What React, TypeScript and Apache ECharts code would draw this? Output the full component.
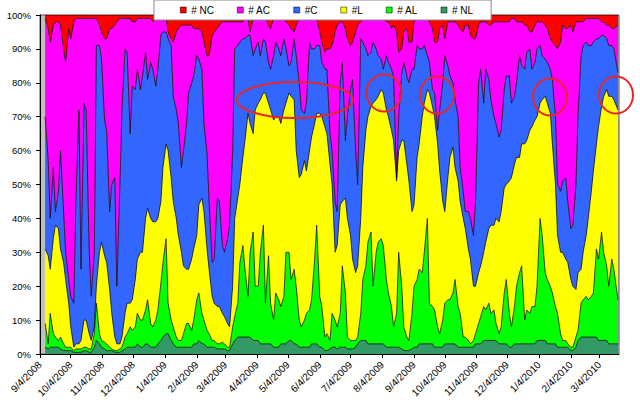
import React, { useEffect, useRef } from "react";
import * as echarts from "echarts";

// Sample dates, first pass (every 5 days)
const dates = [
  "2008-09-09","2008-09-14","2008-09-19","2008-09-24","2008-09-29","2008-10-04","2008-10-09","2008-10-14","2008-10-19","2008-10-24",
  "2008-10-29","2008-11-03","2008-11-08","2008-11-13","2008-11-18","2008-11-23","2008-11-28","2008-12-03","2008-12-08","2008-12-13",
  "2008-12-18","2008-12-23","2008-12-28","2009-01-02","2009-01-07","2009-01-12","2009-01-17","2009-01-22","2009-01-27","2009-02-01",
  "2009-02-06","2009-02-11","2009-02-16","2009-02-21","2009-02-26","2009-03-03","2009-03-08","2009-03-13","2009-03-18","2009-03-23",
  "2009-03-28","2009-04-02","2009-04-07","2009-04-12","2009-04-17","2009-04-22","2009-04-27","2009-05-02","2009-05-07","2009-05-12",
  "2009-05-17","2009-05-22","2009-05-27","2009-06-01","2009-06-06","2009-06-11","2009-06-16","2009-06-21","2009-06-26","2009-07-01",
  "2009-07-06","2009-07-11","2009-07-16","2009-07-21","2009-07-26","2009-07-31","2009-08-05","2009-08-10","2009-08-15","2009-08-20",
  "2009-08-25","2009-08-30","2009-09-04","2009-09-09","2009-09-14","2009-09-19","2009-09-24","2009-09-29","2009-10-04","2009-10-09",
  "2009-10-14","2009-10-19","2009-10-24","2009-10-29","2009-11-03","2009-11-08","2009-11-13","2009-11-18","2009-11-23","2009-11-28",
  "2009-12-03","2009-12-08","2009-12-13","2009-12-18","2009-12-23","2009-12-28","2010-01-02","2010-01-07","2010-01-12","2010-01-17",
  "2010-01-22","2010-01-27","2010-02-01","2010-02-06","2010-02-11","2010-02-16","2010-02-21","2010-02-26","2010-03-03","2010-03-08",
  "2010-03-13","2010-03-18","2010-03-22"
];

// Cumulative upper boundary (%) of each layer at those dates
const nlTop = [
  2,2,2,1.5,1,1,0.5,0.5,1,0.5,
  4,2,1,1,0.5,1,2,2,3,2,
  3,2,3,5,6,3,2,2,2,3,
  4,3,2,2,1.5,1.5,1,4,5,5,
  5,4,3,3,3,2,3,3,4,3,
  2,2,3,3,2,1,2,1.5,2,1.5,
  1.5,3,4,3,3,3,3,2,2,2,
  1,1,2,3,3,3,2,2,3,3,
  3,2,2,2,3,3,4,4,4,3,
  3,2,3,3,3,3,4,4,3,3,
  2,2,2,1,4,5,5,5,4,4,
  3,3,3
];
const alTop = [
  9,12,5,5,2,2,1.5,1.5,2,1.5,
  15,4,3,1.5,1,2,6,7,12,10,
  16,8,13,27,15,8,4,6,9,10,
  18,10,6,4,3,3,2,11,27,25,
  30,20,30,15,15,18,14,30,22,20,
  8,12,16,38,14,6,12,8,26,5,
  4,5,22,33,20,33,32,18,8,30,
  8,4,20,25,30,15,13,6,15,16,
  22,12,5,3,6,11,13,12,9,8,
  22,8,20,26,13,14,20,35,22,18,
  12,4,3,2,7,16,16,18,28,30,
  20,25,16
];
const lTop = [
  31,25,38,31,22,8,3,4,10,4,
  20,33,27,12,3,5,15,16,28,30,
  43,39,40,55,60,45,35,26,25,31,
  44,42,25,15,14,11,8,40,50,63,
  68,72,75,77,72,70,68,74,76,60,
  53,54,64,71,70,65,50,32,45,40,
  28,26,55,70,74,76,77,70,63,60,
  63,51,44,62,74,77,70,54,42,58,
  55,45,37,28,20,26,33,38,40,42,
  50,52,58,62,63,67,70,75,74,62,
  35,30,27,20,24,30,40,54,67,76,
  76,75,72
];
const cTop = [
  70,40,42,60,30,17,45,25,72,17,
  91,87,66,50,20,72,89,79,84,82,
  81,84,84,95,93,76,68,60,77,82,
  87,68,45,28,45,30,38,90,92,93,
  94,90,88,92,84,92,88,90,86,88,
  72,74,90,91,86,84,60,42,86,70,
  81,50,92,88,92,88,84,86,82,70,
  86,80,84,90,91,86,77,72,88,82,
  75,55,42,40,45,84,84,75,68,66,
  82,74,80,85,89,84,90,88,86,81,
  50,51,45,38,70,91,91,92,93,94,
  91,90,83
];
const acTop = [
  99,92,98,97,86,93,99,99,99,99,
  99,95,93,96,98,99,99,98,99,99,
  99,98,99,99,95,92,96,97,97,96,
  96,92,88,95,97,98,98,98,98,99,
  95,99,99,99,96,99,99,98,96,97,
  99,99,99,99,92,90,91,97,98,93,
  92,97,99,99,99,99,99,98,97,89,
  95,92,98,99,99,98,92,96,93,98,
  98,96,97,94,93,98,98,97,98,98,
  98,99,98,98,97,95,98,98,96,92,
  90,97,96,95,98,98,99,99,99,98,
  97,96,97
];

// Second pass: readings taken between the first-pass dates
const midDates = [
  "2008-09-12","2008-09-17","2008-09-22","2008-09-27","2008-10-02","2008-10-07","2008-10-12","2008-10-17","2008-10-22","2008-10-27",
  "2008-11-01","2008-11-06","2008-11-11","2008-11-16","2008-11-21","2008-11-26","2008-12-01","2008-12-06","2008-12-11","2008-12-16",
  "2008-12-21","2008-12-26","2008-12-31","2009-01-05","2009-01-10","2009-01-15","2009-01-20","2009-01-25","2009-01-30","2009-02-04",
  "2009-02-09","2009-02-14","2009-02-19","2009-02-24","2009-03-01","2009-03-06","2009-03-11","2009-03-16","2009-03-21","2009-03-26",
  "2009-03-31","2009-04-05","2009-04-10","2009-04-15","2009-04-20","2009-04-25","2009-04-30","2009-05-05","2009-05-10","2009-05-15",
  "2009-05-20","2009-05-25","2009-05-30","2009-06-04","2009-06-09","2009-06-14","2009-06-19","2009-06-24","2009-06-29","2009-07-04",
  "2009-07-09","2009-07-14","2009-07-19","2009-07-24","2009-07-29","2009-08-03","2009-08-08","2009-08-13","2009-08-18","2009-08-23",
  "2009-08-28","2009-09-02","2009-09-07","2009-09-12","2009-09-17","2009-09-22","2009-09-27","2009-10-02","2009-10-07","2009-10-12",
  "2009-10-17","2009-10-22","2009-10-27","2009-11-01","2009-11-06","2009-11-11","2009-11-16","2009-11-21","2009-11-26","2009-12-01",
  "2009-12-06","2009-12-11","2009-12-16","2009-12-21","2009-12-26","2009-12-31","2010-01-05","2010-01-10","2010-01-15","2010-01-20",
  "2010-01-25","2010-01-30","2010-02-04","2010-02-09","2010-02-14","2010-02-19","2010-02-24","2010-03-01","2010-03-06","2010-03-11",
  "2010-03-16"
];
const nlMid = [
  1.5,2,2,1,1,0.5,0.5,1,0.5,2,
  3,1.5,1,0.5,0.5,1.5,2,2,2,3,
  2,2,4,6,4,2,2,2,2,3,
  3,2,2,1.5,1.5,1,3,5,5,5,
  4,4,3,3,2,2,3,4,3,2,
  2,2,3,2,1,1.5,2,2,2,1.5,
  2,4,4,3,3,3,2,2,2,1.5,
  1,1.5,2,3,3,3,2,2,3,3,
  2,2,2,2,3,4,4,4,3,3,
  2,3,3,3,3,3,4,4,3,3,
  2,2,1,2,5,5,5,5,4,4,
  3
];
const alMid = [
  3,6,4,3,2,1,1.5,2,1.5,6,
  6,3.5,2,1,1.5,5,8,8,10,13,
  9,10,21,34,10,5,4,9,7,16,
  12,7,4,3,3.5,2,8,15,32,17,
  36,20,38,29,10,16,17,30,25,10,
  10,13,28,17,5,4,10,12,18,4,
  4,12,26,36,30,34,22,14,12,20,
  5,12,22,24,40,14,8,10,16,18,
  14,5,4,4,9,14,15,13,6,18,
  12,14,24,10,12,14,40,24,20,14,
  6,4,2,5,15,17,17,31,36,26,
  28
];
const lMid = [
  29,34,37,27,15,2,3,10,6,8,
  30,29,19,5,3,12,15,22,30,40,
  40,39,45,62,52,40,30,25,28,35,
  46,31,17,14,12,9,20,46,58,71,
  65,74,77,74,69,70,72,77,75,52,
  57,60,68,71,67,56,30,44,46,35,
  24,40,66,73,75,78,72,66,51,63,
  56,42,58,70,78,73,62,45,52,61,
  51,40,31,20,24,30,37,38,39,49,
  51,56,58,62,66,69,74,76,71,50,
  30,28,22,19,25,35,48,62,73,78,
  76
];
const cMid = [
  57,55,48,42,22,15,72,74,30,30,
  91,69,42,52,50,90,65,78,78,89,
  86,79,94,95,91,72,55,68,80,88,
  84,59,27,46,32,34,60,91,93,94,
  88,92,93,86,88,90,93,85,93,80,
  71,92,90,91,84,65,45,80,63,78,
  60,93,90,89,90,87,88,84,52,83,
  82,84,91,90,88,78,66,80,85,80,
  70,48,42,35,80,74,81,70,64,78,
  82,76,88,84,90,86,91,87,84,70,
  48,52,37,50,88,92,91,93,94,93,
  91
];
const acMid = [
  96,97,98,90,96,98,99,99,99,99,
  97,93,96,97,99,99,99,98,99,99,
  99,99,99,99,93,95,97,97,97,96,
  95,88,94,96,98,98,98,98,98,99,
  99,99,99,97,99,99,99,97,95,99,
  99,99,99,95,89,90,95,98,96,91,
  95,98,99,99,99,99,98,96,95,90,
  96,92,99,99,99,96,92,97,98,98,
  97,95,97,93,97,98,97,98,98,98,
  98,99,98,97,95,97,98,97,93,91,
  92,96,97,98,98,99,99,99,98,97,
  96
];

const tickDates = [
  "2008-09-04","2008-10-04","2008-11-04","2008-12-04","2009-01-04","2009-02-04","2009-03-04",
  "2009-04-04","2009-05-04","2009-06-04","2009-07-04","2009-08-04","2009-09-04","2009-10-04",
  "2009-11-04","2009-12-04","2010-01-04","2010-02-04","2010-03-04"
];
const startDate = "2008-09-04";
const endDate = "2010-03-23";

const seriesNames = ["# NL", "# AL", "#L", "#C", "# AC", "# NC"];
const seriesColors = ["#339966", "#00FF00", "#FFFF00", "#3366FF", "#FF00FF", "#FF0000"];
const legendOrder = ["# NC", "# AC", "#C", "#L", "# AL", "# NL"];

function utc(s: string): number {
  const [y, m, d] = s.split("-").map(Number);
  return Date.UTC(y, m - 1, d);
}
function fmt(v: number): string {
  const d = new Date(v);
  return `${d.getUTCMonth() + 1}/${d.getUTCDate()}/${d.getUTCFullYear()}`;
}

export default function App() {
  const ref = useRef<HTMLDivElement>(null);
  useEffect(() => {
    if (!ref.current) return;
    const chart = echarts.init(ref.current, undefined, { renderer: "svg" });
    type Row = { t: number; tops: number[] };
    const rows: Row[] = [
      ...dates.map((d, i) => ({ t: utc(d), tops: [nlTop[i], alTop[i], lTop[i], cTop[i], acTop[i], 100] })),
      ...midDates.map((d, i) => ({ t: utc(d), tops: [nlMid[i], alMid[i], lMid[i], cMid[i], acMid[i], 100] })),
    ].sort((a, b) => a.t - b.t);
    const series = seriesNames.map((name, k) => ({
      name,
      type: "line",
      stack: "total",
      symbol: "none",
      xAxisIndex: 0,
      data: rows.map((r) => {
        const bottom = k === 0 ? 0 : r.tops[k - 1];
        return [r.t, Math.round((r.tops[k] - bottom) * 100) / 100];
      }),
      lineStyle: { color: "#000", width: 0.7 },
      itemStyle: { color: seriesColors[k] },
      areaStyle: { color: seriesColors[k], opacity: 1 },
      z: 2,
    }));
    const ticks = tickDates.map(utc);
    const ell = (cx: number, cy: number, rx: number, ry: number) => ({
      type: "ellipse",
      shape: { cx, cy, rx, ry },
      style: { fill: "none", stroke: "#E8262A", lineWidth: 2 },
      z: 100,
    });
    chart.setOption({
      animation: false,
      backgroundColor: "#fff",
      textStyle: { fontFamily: "Arial, 'Liberation Sans', sans-serif" },
      grid: {
        left: 40,
        right: 21,
        top: 15,
        bottom: 56,
        show: true,
        backgroundColor: "#C0C0C0",
        borderColor: "#555",
        borderWidth: 1,
      },
      legend: {
        data: legendOrder,
        left: 154,
        top: 0,
        padding: [5, 18, 5, 26],
        itemGap: 23,
        itemWidth: 6,
        itemHeight: 6,
        icon: "rect",
        backgroundColor: "#fff",
        borderColor: "#888",
        borderWidth: 1,
        itemStyle: { borderColor: "#000", borderWidth: 0.5 },
        textStyle: { fontSize: 10, color: "#000" },
      },
      xAxis: [
        {
          type: "time",
          show: false,
          position: "bottom",
          min: utc(startDate),
          max: utc(endDate),
        },
        {
          type: "value",
          position: "bottom",
          min: utc(startDate),
          max: utc(endDate),
          axisLine: { show: true, onZero: false, lineStyle: { color: "#000", width: 1 } },
          axisTick: { show: true, length: 4, lineStyle: { color: "#000" }, customValues: ticks },
          axisLabel: {
            customValues: ticks,
            rotate: 45,
            margin: 9,
            fontSize: 10,
            color: "#000",
            hideOverlap: false,
            formatter: (v: number) => fmt(v),
          },
          splitLine: { show: false },
        },
      ],
      yAxis: {
        type: "value",
        min: 0,
        max: 100,
        interval: 10,
        axisLine: { show: true, lineStyle: { color: "#000", width: 1 } },
        axisTick: { show: true, length: 4, lineStyle: { color: "#000" } },
        axisLabel: { formatter: "{value}%", fontSize: 9.5, color: "#000", margin: 9 },
        splitLine: { show: false },
      },
      series,
      graphic: [
        ell(295, 100, 58, 18),
        ell(384, 93, 17.5, 18.5),
        ell(437, 95, 17, 18.5),
        ell(550, 97, 17, 18.5),
        ell(616, 95, 17, 18.5),
      ],
    });
    return () => chart.dispose();
  }, []);
  return (
    <div
      ref={ref}
      style={{ position: "absolute", left: 0, top: 0, width: 640, height: 410 }}
    />
  );
}
